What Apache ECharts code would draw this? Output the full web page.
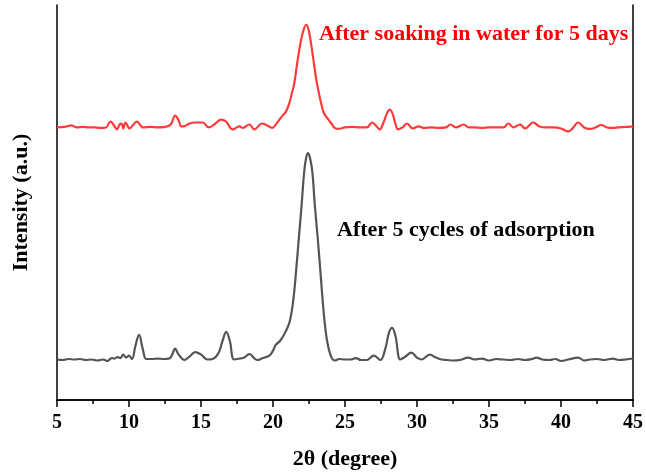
<!DOCTYPE html>
<html>
<head>
<meta charset="utf-8">
<script src="https://cdn.jsdelivr.net/npm/echarts@6/dist/echarts.min.js"></script>
<style>
html,body{margin:0;padding:0;background:#fff;}
#chart{width:646px;height:475px;}
</style>
</head>
<body>
<div id="chart"></div>
<script>
var xTicks = [5, 10, 15, 20, 25, 30, 35, 40, 45];
var xAxisTitle = '2θ (degree)';
var yAxisTitle = 'Intensity (a.u.)';
var labelRed = 'After soaking in water for 5 days';
var labelBlack = 'After 5 cycles of adsorption';

var cyclesTheta = [5.0,5.4,5.8,6.2,6.6,7.0,7.4,7.8,8.2,8.5,8.8,9.0,9.2,9.4,9.6,9.8,10.0,10.2,10.45,10.7,10.95,11.2,11.6,12.0,12.4,12.8,13.0,13.2,13.45,13.85,14.2,14.6,15.0,15.45,15.8,16.2,16.5,16.75,17.0,17.3,17.7,18.0,18.35,18.9,19.3,19.75,20.0,20.2,20.5,20.9,21.17,21.4,21.6,21.8,21.98,22.16,22.3,22.44,22.6,22.74,22.9,23.1,23.32,23.5,23.7,23.9,24.1,24.3,24.6,25.0,25.4,25.75,26.1,26.5,27.0,27.45,27.8,28.05,28.27,28.5,28.85,29.2,29.6,30.0,30.3,30.9,31.3,31.7,32.1,32.5,33.0,33.55,34.0,34.5,35.0,35.5,36.0,36.5,37.0,37.5,38.0,38.3,38.7,39.2,39.6,40.0,40.5,41.2,41.6,42.0,42.5,43.0,43.6,44.0,44.5,45.0];
var cyclesIntensity = [41,40.5,41.5,41,41.5,40.5,41,40,41,39.5,42.5,42,43.5,42.5,46,43,45,41.5,55,66,52,41.5,41.5,42,41.5,42,46,52,46,40.5,44,48.5,46,41,41.5,47,60,69,60,41,42,43,46.5,40.5,42.5,45,50,56,60,70,80,100,130,165,196,230,245,250,243,230,198,165,125,92,65,50,42,40,41.5,41,41,42.5,40.5,40.5,45,40.5,52,68,73,65,41,44,48,43,41,46,43,41,40.5,40,40.5,43,41,42,40,41.5,41,40.5,41.5,40.5,41.5,43,41,40.5,41.5,39.5,41,43,40,41,41.5,40.5,42,40.5,41,42];

var soakTheta = [5.0,5.5,6.0,6.4,6.8,7.2,7.6,8.0,8.4,8.72,9.0,9.17,9.35,9.48,9.6,9.75,10.05,10.3,10.56,10.8,10.97,11.5,12.0,12.5,12.9,13.21,13.45,13.63,13.9,14.2,14.6,15.12,15.54,16.0,16.4,16.74,17.2,17.66,17.9,18.36,18.7,19.24,19.6,19.93,20.3,20.66,20.9,21.12,21.3,21.47,21.7,21.93,22.15,22.32,22.47,22.62,22.85,23.0,23.2,23.4,23.55,23.9,24.1,24.24,24.47,25.0,25.5,26.0,26.5,26.89,27.2,27.4,27.7,27.9,28.11,28.3,28.5,28.69,29.0,29.31,29.7,30.12,30.5,31.0,31.5,32.0,32.31,32.7,33.24,33.6,34.0,34.5,35.0,35.5,36.0,36.35,36.7,37.16,37.5,38.08,38.5,39.0,39.5,40.0,40.5,40.8,41.2,41.6,42.0,42.4,42.8,43.2,43.6,44.0,44.5,45.0];
var soakIntensity = [276,276.5,278,276,276.5,276,276,275.5,276,282,277,274,279,280,275,281,275,279,282,278,276,276.5,276,276.5,279,288,283,277,277.5,280,281,281,276,280,284,282,274,277,275.5,279,274,280,278,275.5,281,288,292,300,310,320,343,363,376,380,375,363,340,325,310,297,290,283,279,276,274.5,276,276.5,276,276,281,277,274,282,290,294,290,280,274,276,280,275,277,275.5,276,275.5,276,279,276,279,276,276,275.5,276,276,276,280,276,279,275,281,277,276,276,275,272,275,281,276,274.5,276,278.5,276,275.5,276,276.5,277];

function pairs(xs, ys){ return xs.map(function(x,i){ return [x, ys[i]]; }); }

var chart = echarts.init(document.getElementById('chart'), null, {renderer:'canvas'});
var serif = '"Liberation Serif", "Times New Roman", serif';
var axisLine = {show:true, lineStyle:{color:'#000', width:1.5}};

chart.setOption({
  animation: false,
  backgroundColor: '#fff',
  grid: {left:57, right:11, top:5, bottom:72, containLabel:false},
  xAxis: [{
    type:'value', min:xTicks[0], max:xTicks[xTicks.length-1], interval:5,
    position:'bottom',
    axisLine: axisLine,
    axisTick:{show:true, inside:false, length:7, lineStyle:{color:'#000', width:1.5}},
    minorTick:{show:true, splitNumber:2, length:4, lineStyle:{color:'#000', width:1.5}},
    splitLine:{show:false},
    axisLabel:{show:true, margin:13, fontFamily:serif, fontWeight:'bold', fontSize:20, color:'#000'},
    name: xAxisTitle, nameLocation:'middle', nameGap:48,
    nameTextStyle:{fontFamily:serif, fontWeight:'bold', fontSize:22, color:'#000'}
  },{
    type:'value', min:xTicks[0], max:xTicks[xTicks.length-1], position:'top',
    axisLine: axisLine, axisTick:{show:false}, axisLabel:{show:false}, splitLine:{show:false}
  }],
  yAxis: [{
    type:'value', min:0, max:400, position:'left',
    axisLine: axisLine, axisTick:{show:false}, axisLabel:{show:false}, splitLine:{show:false},
    name: yAxisTitle, nameLocation:'middle', nameGap:25, nameRotate:90,
    nameTextStyle:{fontFamily:serif, fontWeight:'bold', fontSize:22, color:'#000'}
  },{
    type:'value', min:0, max:400, position:'right',
    axisLine: axisLine, axisTick:{show:false}, axisLabel:{show:false}, splitLine:{show:false}
  }],
  series: [{
    type:'line', name:labelBlack, data:pairs(cyclesTheta, cyclesIntensity),
    showSymbol:false, smooth:0.4,
    lineStyle:{color:'#555555', width:2.2}
  },{
    type:'line', name:labelRed, data:pairs(soakTheta, soakIntensity),
    showSymbol:false, smooth:0.4,
    lineStyle:{color:'#ff3a3a', width:2.2}
  }],
  graphic: [{
    type:'text', left:319, top:23,
    style:{text:labelRed, font:'bold 22px ' + serif, fill:'#ff0000'}
  },{
    type:'text', left:337, top:219,
    style:{text:labelBlack, font:'bold 22px ' + serif, fill:'#000000'}
  }]
});
</script>
</body>
</html>
